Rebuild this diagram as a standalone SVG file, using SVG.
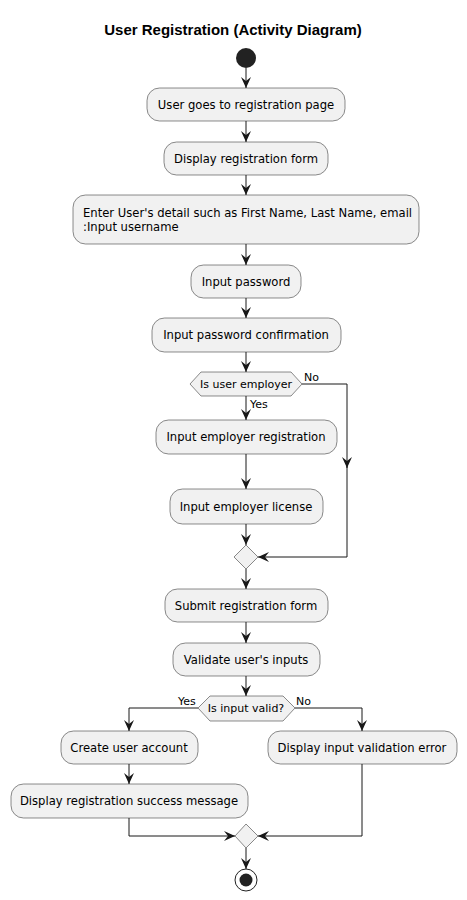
<svg xmlns="http://www.w3.org/2000/svg" width="467" height="900" viewBox="0 0 467 900">
<style>
.box{fill:#F1F1F1;stroke:#181818;stroke-width:0.5}
.t{font-family:"DejaVu Sans",sans-serif;font-size:11.6px;fill:#000;text-anchor:middle}
.tl{font-family:"DejaVu Sans",sans-serif;font-size:11.6px;fill:#000}
.lbl{font-family:"DejaVu Sans",sans-serif;font-size:11px;fill:#000}
.ln{fill:none;stroke:#181818;stroke-width:1}
</style>
<defs>
<marker id="ah" viewBox="0 0 11 10" refX="11" refY="5" markerWidth="11" markerHeight="10" markerUnits="userSpaceOnUse" orient="auto">
<path d="M0,0 L11,5 L0,10 L4,5 Z" fill="#181818"/>
</marker>
</defs>
<rect width="467" height="900" fill="#fff"/>
<text x="233" y="35" font-family="Liberation Sans,Arial,sans-serif" font-size="15" font-weight="bold" text-anchor="middle">User Registration (Activity Diagram)</text>
<g id="connectors">
<line class="ln" x1="246" y1="68" x2="246" y2="88" marker-end="url(#ah)"/>
<line class="ln" x1="246" y1="121" x2="246" y2="142" marker-end="url(#ah)"/>
<line class="ln" x1="246" y1="175" x2="246" y2="195" marker-end="url(#ah)"/>
<line class="ln" x1="246" y1="244" x2="246" y2="265" marker-end="url(#ah)"/>
<line class="ln" x1="246" y1="298" x2="246" y2="318" marker-end="url(#ah)"/>
<line class="ln" x1="246" y1="352" x2="246" y2="372" marker-end="url(#ah)"/>
<line class="ln" x1="246" y1="396" x2="246" y2="420" marker-end="url(#ah)"/>
<line class="ln" x1="246" y1="454" x2="246" y2="489" marker-end="url(#ah)"/>
<line class="ln" x1="246" y1="524" x2="246" y2="545" marker-end="url(#ah)"/>
<polyline class="ln" points="302,384 347,384 347,468" marker-end="url(#ah)"/>
<polyline class="ln" points="347,466 347,557 258,557" marker-end="url(#ah)"/>
<line class="ln" x1="246" y1="569" x2="246" y2="589" marker-end="url(#ah)"/>
<line class="ln" x1="246" y1="622" x2="246" y2="643" marker-end="url(#ah)"/>
<line class="ln" x1="246" y1="676" x2="246" y2="696" marker-end="url(#ah)"/>
<polyline class="ln" points="198,708 129,708 129,731" marker-end="url(#ah)"/>
<polyline class="ln" points="295,708 362,708 362,731" marker-end="url(#ah)"/>
<line class="ln" x1="129" y1="764" x2="129" y2="784" marker-end="url(#ah)"/>
<polyline class="ln" points="129,818 129,836 235,836" marker-end="url(#ah)"/>
<polyline class="ln" points="362,764 362,836 258,836" marker-end="url(#ah)"/>
<line class="ln" x1="246" y1="848" x2="246" y2="869" marker-end="url(#ah)"/>
<text class="lbl" x="304" y="381">No</text>
<text class="lbl" x="250" y="408">Yes</text>
<text class="lbl" x="178" y="705">Yes</text>
<text class="lbl" x="296" y="705">No</text>
</g>
<g id="start"><circle cx="246" cy="58" r="10" fill="#222"/></g>
<g id="n1"><rect class="box" x="147" y="88" width="198" height="33" rx="12.5"/><text class="t" x="246" y="109">User goes to registration page</text></g>
<g id="n2"><rect class="box" x="164" y="142" width="164" height="33" rx="12.5"/><text class="t" x="246" y="163">Display registration form</text></g>
<g id="n3"><rect class="box" x="73" y="195" width="346" height="49" rx="12.5"/><text class="tl" x="83" y="217">Enter User's detail such as First Name, Last Name, email</text><text class="tl" x="83" y="231">:Input username</text></g>
<g id="n4"><rect class="box" x="191" y="265" width="110" height="33" rx="12.5"/><text class="t" x="246" y="286">Input password</text></g>
<g id="n5"><rect class="box" x="152" y="318" width="189" height="34" rx="12.5"/><text class="t" x="246" y="339">Input password confirmation</text></g>
<g id="d1"><polygon class="box" points="190,384 201,372 291,372 302,384 291,396 201,396"/><text class="lbl" x="246" y="388" text-anchor="middle">Is user employer</text></g>
<g id="n6"><rect class="box" x="156" y="420" width="181" height="34" rx="12.5"/><text class="t" x="246" y="441">Input employer registration</text></g>
<g id="n7"><rect class="box" x="170" y="489" width="153" height="35" rx="12.5"/><text class="t" x="246" y="511">Input employer license</text></g>
<g id="m1"><polygon class="box" points="234,557 246,545 258,557 246,569"/></g>
<g id="n8"><rect class="box" x="165" y="589" width="163" height="33" rx="12.5"/><text class="t" x="246" y="610">Submit registration form</text></g>
<g id="n9"><rect class="box" x="173" y="643" width="147" height="33" rx="12.5"/><text class="t" x="246" y="664">Validate user's inputs</text></g>
<g id="d2"><polygon class="box" points="198,708 210,696 283,696 295,708 283,721 210,721"/><text class="lbl" x="246" y="712" text-anchor="middle">Is input valid?</text></g>
<g id="n10"><rect class="box" x="61" y="731" width="137" height="33" rx="12.5"/><text class="t" x="129" y="752">Create user account</text></g>
<g id="n11"><rect class="box" x="268" y="731" width="189" height="33" rx="12.5"/><text class="t" x="362" y="752">Display input validation error</text></g>
<g id="n12"><rect class="box" x="11" y="784" width="237" height="34" rx="12.5"/><text class="t" x="129" y="805">Display registration success message</text></g>
<g id="m2"><polygon class="box" points="235,836 246,824 258,836 246,848"/></g>
<g id="end"><circle cx="246" cy="880" r="11" fill="#fff" stroke="#222" stroke-width="1"/><circle cx="246" cy="880" r="6.5" fill="#222"/></g>
</svg>
